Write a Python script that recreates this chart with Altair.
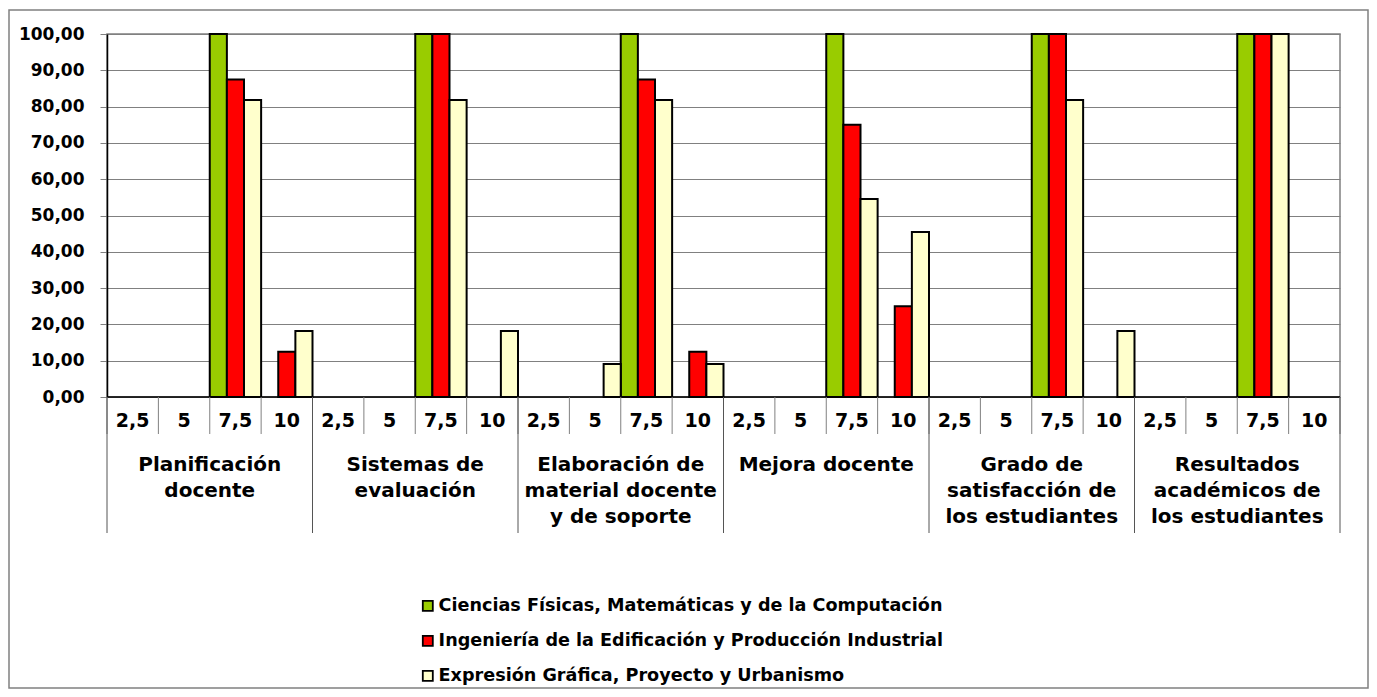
import altair as alt
import pandas as pd

# ---- data ----
groups = [
    "Planificación\ndocente",
    "Sistemas de\nevaluación",
    "Elaboración de\nmaterial docente\ny de soporte",
    "Mejora docente",
    "Grado de\nsatisfacción de\nlos estudiantes",
    "Resultados\nacadémicos de\nlos estudiantes",
]
scores = ["2,5", "5", "7,5", "10"]
series = [
    "Ciencias Físicas, Matemáticas y de la Computación",
    "Ingeniería de la Edificación y Producción Industrial",
    "Expresión Gráfica, Proyecto y Urbanismo",
]
colors = ["#99CC00", "#FF0000", "#FFFFCC"]

ciencias = [0, 0, 100, 0,  0, 0, 100, 0,  0, 0, 100, 0,
            0, 0, 100, 0,  0, 0, 100, 0,  0, 0, 100, 0]
ingenieria = [0, 0, 87.5, 12.5,  0, 0, 100, 0,  0, 0, 87.5, 12.5,
              0, 0, 75, 25,  0, 0, 100, 0,  0, 0, 100, 0]
expresion = [0, 0, 81.82, 18.18,  0, 0, 81.82, 18.18,  0, 9.09, 81.82, 9.09,
             0, 0, 54.55, 45.45,  0, 0, 81.82, 18.18,  0, 0, 100, 0]

# ---- tables built from the arrays ----
rows = []
for s_i, (name, vals) in enumerate(zip(series, [ciencias, ingenieria, expresion])):
    for k, v in enumerate(vals):
        rows.append({"series": name, "s": s_i, "cell": k, "value": v})
bars_df = pd.DataFrame(rows)

n_cells = len(groups) * len(scores)
cells_df = pd.DataFrame({
    "center": [k + 0.5 for k in range(n_cells)],
    "label": [scores[k % len(scores)] for k in range(n_cells)],
})
groups_df = pd.DataFrame({
    "center": [g * len(scores) + len(scores) / 2 for g in range(len(groups))],
    "label": groups,
})
minor_df = pd.DataFrame({"pos": list(range(n_cells + 1))})
major_df = pd.DataFrame({"pos": list(range(0, n_cells + 1, len(scores)))})
one_df = pd.DataFrame({"a": [0]})

W, H = 1233, 363
FONT = "DejaVu Sans"
GRAY = "#808080"

x_scale = alt.Scale(domain=[0, n_cells], nice=False, zero=False)
y_scale = alt.Scale(domain=[0, 100], nice=False)

frame = alt.Chart(one_df).mark_rect(
    fillOpacity=0, stroke=GRAY, strokeWidth=1.5
).encode(
    x=alt.value(-98), x2=alt.value(1261), y=alt.value(-24), y2=alt.value(654)
)

bars = alt.Chart(bars_df).transform_filter("datum.value > 0").transform_calculate(
    x0="datum.cell + datum.s / 3", x1="datum.cell + (datum.s + 1) / 3", base="0"
).mark_bar(stroke="black", strokeWidth=2).encode(
    x=alt.X("x0:Q", scale=x_scale, axis=None),
    x2="x1:Q",
    y=alt.Y(
        "value:Q",
        scale=y_scale,
        axis=alt.Axis(
            title=None,
            values=list(range(0, 101, 10)),
            labelExpr="replace(format(datum.value, '.2f'), '.', ',')",
            labelFont=FONT, labelFontSize=17, labelFontWeight="bold",
            labelColor="black", labelPadding=16,
            tickSize=7, tickColor=GRAY, tickWidth=1,
            domainColor="black", domainWidth=1.5,
            grid=True, gridColor=GRAY, gridWidth=1, gridOpacity=1,
        ),
    ),
    y2="base:Q",
    color=alt.Color(
        "series:N",
        scale=alt.Scale(domain=series, range=colors),
        legend=alt.Legend(
            title=None, orient="none", legendX=312, legendY=563,
            symbolType="square", symbolSize=100,
            symbolStrokeColor="black", symbolStrokeWidth=1.8,
            labelFont=FONT, labelFontSize=17.6, labelFontWeight="bold",
            labelColor="black", labelOffset=2, labelLimit=0,
            rowPadding=16, padding=0,
        ),
    ),
)

base_line = alt.Chart(one_df).mark_rule(color="black", strokeWidth=1.5).encode(
    y=alt.value(H)
)

minor_lines = alt.Chart(minor_df).mark_rule(color=GRAY, strokeWidth=1).encode(
    x=alt.X("pos:Q", scale=x_scale, axis=None),
    y=alt.value(H), y2=alt.value(H + 37),
)
major_lines = alt.Chart(major_df).mark_rule(color="#555555", strokeWidth=1).encode(
    x=alt.X("pos:Q", scale=x_scale, axis=None),
    y=alt.value(H), y2=alt.value(H + 136),
)

cell_text = alt.Chart(cells_df).mark_text(
    font=FONT, fontSize=19, fontWeight="bold", baseline="alphabetic",
    align="center", color="black"
).encode(
    x=alt.X("center:Q", scale=x_scale, axis=None),
    y=alt.value(H + 30),
    text="label:N",
)

group_text = alt.Chart(groups_df).mark_text(
    font=FONT, fontSize=20, fontWeight="bold", baseline="alphabetic",
    align="center", color="black", lineBreak="\n", lineHeight=26
).encode(
    x=alt.X("center:Q", scale=x_scale, axis=None),
    y=alt.value(H + 74),
    text="label:N",
)

chart = alt.layer(
    frame, bars, base_line, minor_lines, major_lines, cell_text, group_text
).properties(
    width=W, height=H,
    padding={"left": 99, "top": 26, "right": 29, "bottom": 292},
    autosize=alt.AutoSizeParams(type="none"),
).configure_view(stroke=GRAY, strokeWidth=1.5)

chart.save("out.html", embed_options={"renderer": "svg", "actions": False})
